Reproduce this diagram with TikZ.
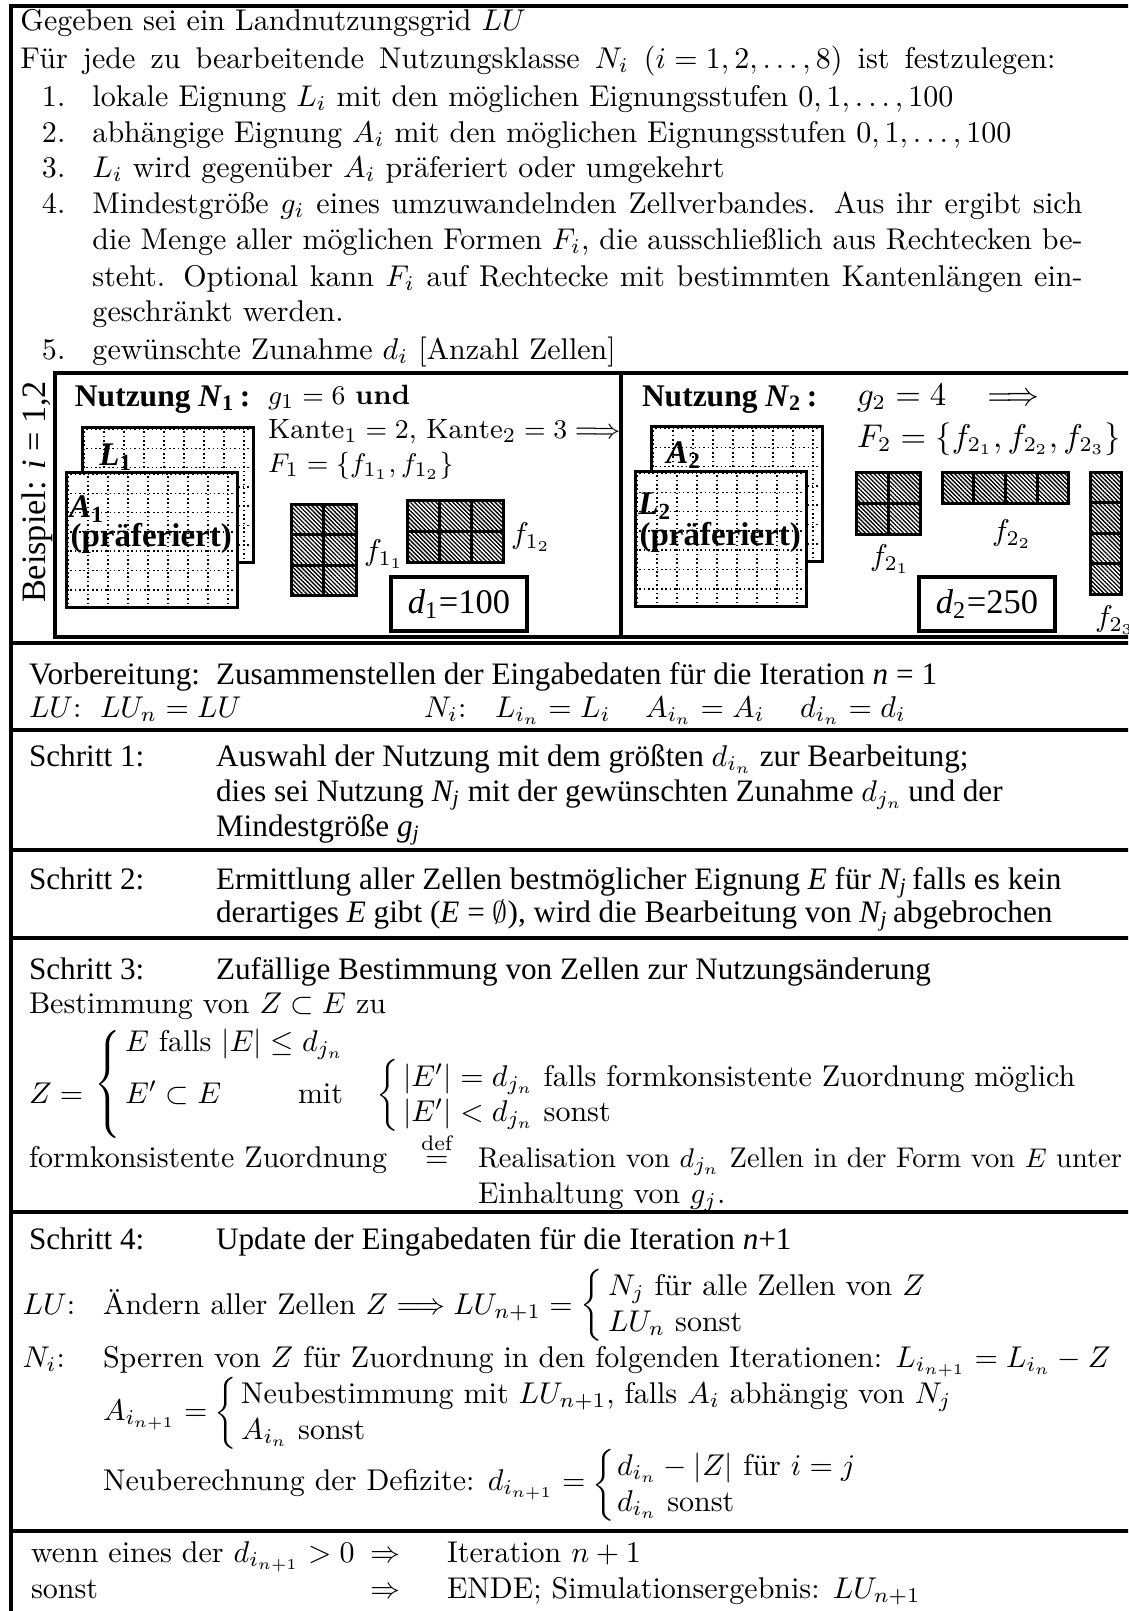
\documentclass[tikz,border=0pt]{standalone}
\usepackage{amsmath}
\usepackage{fontspec}
\newfontfamily\tms{Liberation Serif}
\usetikzlibrary{patterns.meta}
\newcommand\tmsfont{\fontsize{10.4}{12.5}\tms}
\newcommand\ti[1]{{\itshape #1}}
\newcommand\tsub[1]{\textsubscript{\itshape #1}}
\newcommand\bigbr[1]{$\left\{\rule[-#1]{0pt}{#1}\rule{0pt}{#1}\right.$}
\newcommand\gridbox[2]{%
  \fill[white] (#1,#2) rectangle ++(171,135);
  \foreach \k in {0,...,8} \draw[gdot] ({#1+2+20*\k},#2) -- ++(0,135);
  \foreach \k in {0,...,6} \draw[gdot] (#1,{#2+2+19.3*\k}) -- ++(171,0);
  \draw[line width=1pt] (#1,#2) rectangle ++(171,135);
}
\newcommand\hatchshape[6]{%
  \fill[hatch] (#1,#2) rectangle ++({#3*#5},{#4*#6});
  \foreach \i in {1,...,#3}{\foreach \j in {1,...,#4}{%
    \draw[line width=1pt] ({#1+(\i-1)*#5},{#2+(\j-1)*#6}) rectangle ++(#5,#6);}}
}
\begin{document}
\begin{tikzpicture}[x=0.3333pt,y=-0.3333pt,
  frame/.style={line width=1.2pt},
  txt/.style={anchor=base west, inner sep=0pt, outer sep=0pt},
  tm/.style={txt, font=\tmsfont},
  brc/.style={anchor=west, inner sep=0pt, outer sep=0pt},
  gdot/.style={line width=0.5pt, dash pattern=on 0.5pt off 0.95pt},
  hatch/.style={pattern={Lines[angle=-45,distance=1pt,line width=0.45pt]}},
  lbl/.style={inner sep=0pt, font=\fontsize{11}{13}\tms\bfseries},
  nmath/.style={txt, font=\fontsize{9.3}{11}\selectfont},
  dbox/.style={draw, line width=1.2pt, minimum width=45.3pt, minimum height=18pt, inner sep=0pt, font=\fontsize{11.5}{14}\tms}]
\clip (0,0) rectangle (1128,1611);
% frame
\draw[frame] (11,1620) -- (11,6) -- (1140,6);
\foreach \yy in {643,730,850,938,1212,1531} \draw[frame] (11,\yy) -- (1140,\yy);
\draw[frame] (55,373) rectangle (1150,637);
\draw[frame] (621,373) -- (621,637);

% top section
\node[txt] (g0) at (20.5,30) {Gegeben sei ein Landnutzungsgrid $LU$};
\node[txt] (g1) at (20.5,68) {\makebox[345pt][s]{Für jede zu bearbeitende Nutzungsklasse \mbox{$N_i$} \mbox{$(i=1,2,\ldots,8)$} ist festzulegen:}};
\node[txt] (n1) at (42,106) {1.};
\node[txt] (i1) at (92.5,106) {lokale Eignung $L_i$ mit den möglichen Eignungsstufen $0,1,\ldots,100$};
\node[txt] (n2) at (42,142) {2.};
\node[txt] (i2) at (92.5,142) {abhängige Eignung $A_i$ mit den möglichen Eignungsstufen $0,1,\ldots,100$};
\node[txt] (n3) at (42,177) {3.};
\node[txt] (i3) at (92.5,177) {$L_i$ wird gegenüber $A_i$ präferiert oder umgekehrt};
\node[txt] (n4) at (42,213) {4.};
\node[txt] (i4a) at (92.5,213) {\makebox[330pt][s]{Mindestgröße $g_i$ eines umzuwandelnden Zellverbandes. Aus ihr ergibt sich}};
\node[txt] (i4b) at (92.5,249) {\makebox[330pt][s]{die Menge aller möglichen Formen $F_i$, die ausschließlich aus Rechtecken be-}};
\node[txt] (i4c) at (92.5,286) {\makebox[330pt][s]{steht. Optional kann $F_i$ auf Rechtecke mit bestimmten Kantenlängen ein-}};
\node[txt] (i4d) at (92.5,321) {geschränkt werden.};
\node[txt] (n5) at (42,359) {5.};
\node[txt] (i5) at (92.5,359) {gewünschte Zunahme $d_i$ [Anzahl Zellen]};

% example
\node[rotate=90, inner sep=0pt, font=\fontsize{11.4}{13}\tms] (bsp) at (37,492) {Beispiel: \ti{i} = 1,2};
% N1
\node[txt, font=\fontsize{10.5}{13}\tms\bfseries] (nz1) at (75,406) {Nutzung \textit{N}\textsubscript{1}\,:};
\node[nmath] (g1v) at (268,404) {$g_1 = 6$ \textbf{und}};
\node[nmath] (k1) at (268,438) {$\mathrm{Kante}_1 = 2$, $\mathrm{Kante}_2 = 3 \Longrightarrow$};
\node[nmath] (F1) at (268,472) {$F_1 = \{f_{1_1}, f_{1_2}\}$};
\gridbox{82}{427}
\node[lbl] (L1) at (116,457) {\textit{L}\textsubscript{1}};
\gridbox{66}{472}
\node[lbl] (A1) at (87,509) {\textit{A}\textsubscript{1}};
\node[lbl, anchor=west] (p1) at (70,538) {(präferiert)};
\hatchshape{291}{504}{2}{3}{32.5}{30.5}
\hatchshape{407}{500}{3}{2}{32}{31}
\node[brc] (f11) at (364,554) {$f_{1_1}$};
\node[brc] (f12) at (511,537) {$f_{1_2}$};
\node[dbox] (d1) at (459,604) {\ti{d}\textsubscript{1}=100};
% N2
\node[txt, font=\fontsize{10.5}{13}\tms\bfseries] (nz2) at (642,406) {Nutzung \textit{N}\textsubscript{2}\,:};
\node[txt, font=\fontsize{10.6}{13}\selectfont] (g2v) at (857,405) {$g_2 = 4 \quad\Longrightarrow$};
\node[txt, font=\fontsize{10.6}{13}\selectfont] (F2) at (857,447) {$F_2 = \{f_{2_1}, f_{2_2}, f_{2_3}\}$};
\gridbox{651}{426}
\node[lbl] (A2) at (684,455) {\textit{A}\textsubscript{2}};
\gridbox{635}{471}
\node[lbl] (L2) at (655,506) {\textit{L}\textsubscript{2}};
\node[lbl, anchor=west] (p2) at (639,537) {(präferiert)};
\hatchshape{856}{472}{2}{2}{32}{31}
\hatchshape{942}{472}{4}{1}{31.7}{31}
\hatchshape{1090}{472}{1}{4}{31.7}{30.5}
\node[brc] (f21) at (870,559) {$f_{2_1}$};
\node[brc] (f22) at (992,534) {$f_{2_2}$};
\node[brc] (f23) at (1095,620) {$f_{2_3}$};
\node[dbox] (d2) at (987,604) {\ti{d}\textsubscript{2}=250};

% Vorbereitung
\node[tm] (vb) at (29,684) {Vorbereitung:};
\node[tm] (vbt) at (216,684) {Zusammenstellen der Eingabedaten für die Iteration \ti{n} = 1};
\node[txt] (vlu) at (29,717) {$LU$:};
\node[txt] (vlun) at (100,717) {$LU_n = LU$};
\node[txt] (vni) at (424,717) {$N_i$:};
\node[txt] (vl) at (495,717) {$L_{i_n} = L_i$};
\node[txt] (va) at (645,717) {$A_{i_n} = A_i$};
\node[txt] (vd) at (800,717) {$d_{i_n} = d_i$};

% Schritt 1
\node[tm] (s1) at (29,766) {Schritt 1:};
\node[tm] (s1a) at (216,766) {Auswahl der Nutzung mit dem größten $d_{i_n}$ zur Bearbeitung;};
\node[tm] (s1b) at (216,801) {dies sei Nutzung \ti{N}\tsub{j} mit der gewünschten Zunahme $d_{j_n}$\,und der};
\node[tm] (s1c) at (216,836) {Mindestgröße \ti{g}\tsub{j}};

% Schritt 2
\node[tm] (s2) at (29,889) {Schritt 2:};
\node[tm] (s2a) at (216,889) {Ermittlung aller Zellen bestmöglicher Eignung \ti{E} für \ti{N}\tsub{j}\,falls es kein};
\node[tm] (s2b) at (216,922) {derartiges \ti{E} gibt (\ti{E} = $\emptyset$), wird die Bearbeitung von \ti{N}\tsub{j}\,abgebrochen};

% Schritt 3
\node[tm] (s3) at (29,979) {Schritt 3:};
\node[tm] (s3a) at (216,979) {Zufällige Bestimmung von Zellen zur Nutzungsänderung};
\node[txt] (s3b) at (29,1013) {Bestimmung von $Z \subset E$ zu};
\node[txt] (zeq) at (29,1103) {$Z =$};
\node[brc] (zbr) at (95,1084) {\bigbr{15.5pt}};
\node[txt] (z1) at (125,1051) {$E$ falls $|E| \le d_{j_n}$};
\node[txt] (z2) at (125,1103) {$E' \subset E$};
\node[txt] (zmit) at (298,1103) {mit};
\node[brc] (zbr2) at (376,1096) {\bigbr{10pt}};
\node[txt] (z3) at (403,1086) {$|E'| = d_{j_n}$ falls formkonsistente Zuordnung möglich};
\node[txt] (z4) at (403,1121) {$|E'| < d_{j_n}$ sonst};
\node[txt] (fz) at (29,1167) {formkonsistente Zuordnung};
\node[txt] (def) at (421,1167) {$\stackrel{\mathrm{def}}{=}$};
\node[txt, font=\fontsize{9.5}{12}\selectfont] (re1) at (478,1167) {Realisation von $d_{j_n}$ Zellen in der Form von $E$ unter};
\node[txt] (re2) at (478,1203) {Einhaltung von $g_j$.};

% Schritt 4
\node[tm] (s4) at (29,1249) {Schritt 4:};
\node[tm] (s4a) at (216,1249) {Update der Eingabedaten für die Iteration \ti{n}+1};
\node[txt] (lu) at (22.6,1314) {$LU$:};
\node[txt] (lua) at (103,1314) {Ändern aller Zellen $Z \Longrightarrow LU_{n+1} =$};
\node[brc] (lubr) at (580,1306) {\bigbr{10pt}};
\node[txt] (luc1) at (608,1295) {$N_j$ für alle Zellen von $Z$};
\node[txt] (luc2) at (608,1331) {$LU_n$ sonst};
\node[txt] (ni) at (22.6,1367) {$N_i$:};
\node[txt] (nia) at (103,1367) {Sperren von $Z$ für Zuordnung in den folgenden Iterationen: $L_{i_{n+1}} = L_{i_n} - Z$};
\node[txt] (aeq) at (103,1420) {$A_{i_{n+1}} =$};
\node[brc] (abr) at (214,1415) {\bigbr{10.5pt}};
\node[txt] (ac1) at (241,1403) {Neubestimmung mit $LU_{n+1}$, falls $A_i$ abhängig von $N_j$};
\node[txt] (ac2) at (241,1439) {$A_{i_n}$ sonst};
\node[txt] (nb) at (103,1490) {Neuberechnung der Defizite: $d_{i_{n+1}} =$};
\node[brc] (nbbr) at (592,1486) {\bigbr{10pt}};
\node[txt] (nc1) at (617,1475) {$d_{i_n} - |Z|$ für $i = j$};
\node[txt] (nc2) at (617,1511) {$d_{i_n}$ sonst};

% Ende
\node[txt] (w1) at (31,1562) {wenn eines der $d_{i_{n+1}} > 0$};
\node[txt] (w1r) at (370,1562) {$\Rightarrow$};
\node[txt] (w1t) at (447,1562) {Iteration $n+1$};
\node[txt] (w2) at (31,1598) {sonst};
\node[txt] (w2r) at (370,1598) {$\Rightarrow$};
\node[txt] (w2t) at (447,1598) {ENDE; Simulationsergebnis: $LU_{n+1}$};
\end{tikzpicture}
\end{document}
